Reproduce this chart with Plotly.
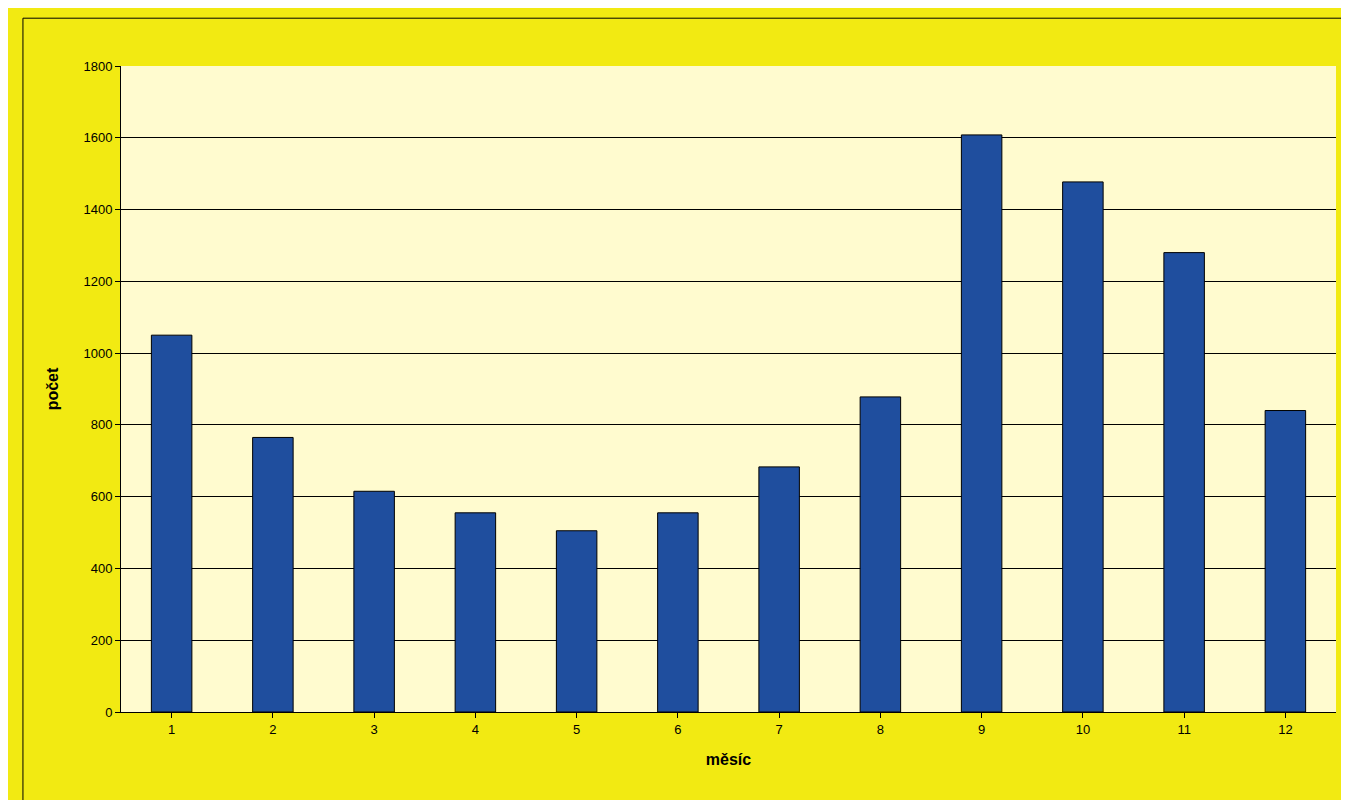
import plotly.graph_objects as go

months = [str(i) for i in range(1, 13)]
counts = [1050, 765, 615, 555, 505, 555, 683, 878, 1608, 1477, 1280, 840]

fig = go.Figure(go.Bar(x=months, y=counts, marker=dict(color="#1F4E9E", line=dict(color="#000000", width=1)), width=0.4))
fig.update_layout(
    width=1349, height=800,
    paper_bgcolor="#F2EA12", plot_bgcolor="#FFFBCF",
    margin=dict(l=113, r=21, t=58, b=96),
    font=dict(family="Liberation Sans, Arial", size=13, color="#000"),
    showlegend=False, bargap=0.6,
    shapes=[dict(type="rect", xref="paper", yref="paper", x0=-0.0807, x1=1.0135, y0=-0.147, y1=1.074,
                 line=dict(color="#000", width=1))],
)
fig.update_xaxes(title=dict(text="<b>měsíc</b>", standoff=18), showline=True, linecolor="#000",
                 ticks="outside", tickcolor="#000", mirror=False)
fig.update_yaxes(title=dict(text="<b>počet</b>", standoff=20), range=[0, 1800], dtick=200,
                 showgrid=True, gridcolor="#000", gridwidth=1, showline=True, linecolor="#000",
                 ticks="outside", tickcolor="#000", zeroline=False)
fig.write_html("out.html")
